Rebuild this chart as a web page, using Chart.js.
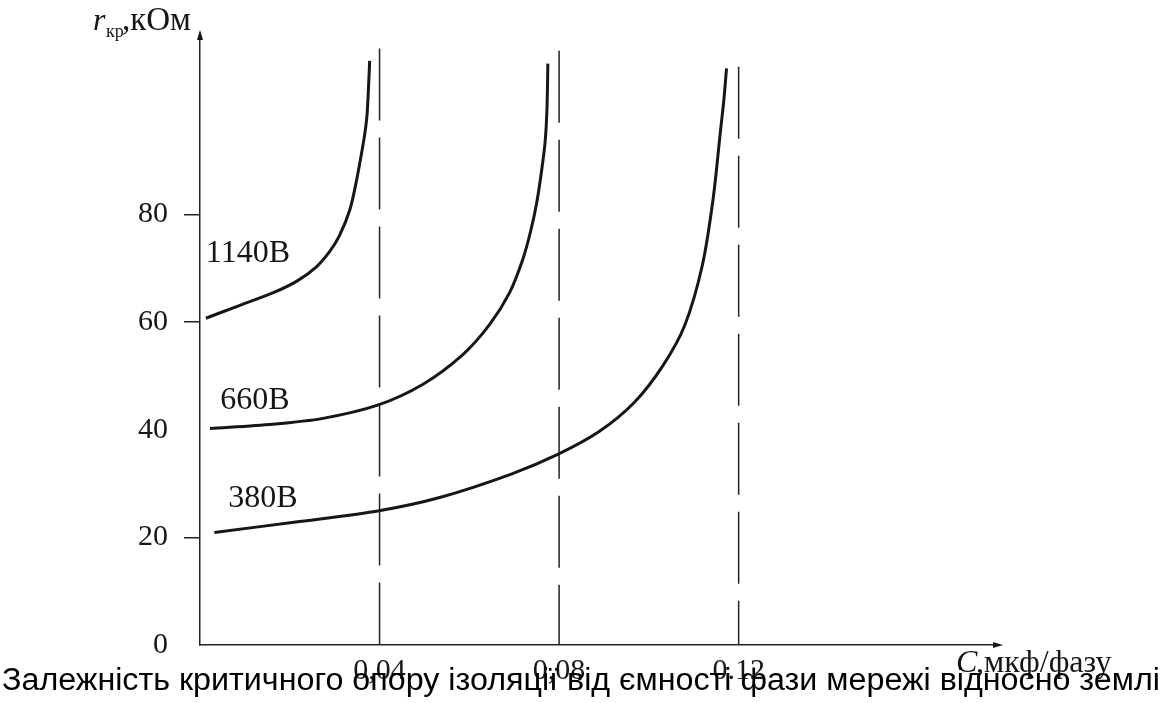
<!DOCTYPE html>
<html>
<head>
<meta charset="utf-8">
<script src="https://cdn.jsdelivr.net/npm/chart.js@4.4.0/dist/chart.umd.min.js"></script>
<style>
html, body { margin: 0; padding: 0; background: #fff; }
#wrap { width: 1163px; height: 703px; }
</style>
</head>
<body>
<div id="wrap"><canvas id="chart" width="1163" height="703"></canvas></div>
<script>
// C, мкф/фазу  ->  r кр, кОм
const c1140X = [0.0013, 0.0089, 0.0162, 0.0216, 0.0260, 0.0289, 0.0311, 0.0334, 0.0349, 0.0360, 0.0367, 0.0372, 0.0375, 0.0378]
const c1140Y = [60.7, 63.1, 65.4, 67.6, 70.3, 73.1, 76.1, 80.9, 86.4, 91.4, 94.9, 98.4, 102.8, 108.5]

const c660X = [0.0022, 0.0162, 0.0274, 0.0394, 0.0496, 0.0585, 0.0645, 0.0690, 0.0719, 0.0737, 0.0750, 0.0761, 0.0769, 0.0773, 0.0775]
const c660Y = [40.2, 41.0, 42.1, 44.5, 48.4, 53.9, 59.5, 65.5, 71.6, 77.0, 82.1, 88.1, 93.6, 99.7, 108.0]

const c380X = [0.0032, 0.0218, 0.0396, 0.0534, 0.0692, 0.0797, 0.0890, 0.0969, 0.1032, 0.1080, 0.1119, 0.1143, 0.1159, 0.1167, 0.1173]
const c380Y = [20.9, 22.9, 24.9, 27.4, 31.7, 35.4, 39.7, 45.2, 52.0, 59.4, 70.5, 82.8, 95.1, 101.2, 107.1]

const curveNames = ['1140В', '660В', '380В']

// dashed verticals (asymptotes)
const asymX = [0.04, 0.08, 0.12]
const asymTop = [110.8, 110.4, 107.4]

const yTicks = [0, 20, 40, 60, 80]
const xTicks = [0.04, 0.08, 0.12]
const xTickLabels = ['0,04', '0,08', '0.12']

const caption = 'Залежність критичного опору ізоляції від ємності фази мережі відносно землі'

const SERIF = '"Liberation Serif", "DejaVu Serif", serif'
const INK = '#161616'

function pts(xs, ys) { return xs.map((x, i) => ({ x: x, y: ys[i] })) }

const curves = [[c1140X, c1140Y], [c660X, c660Y], [c380X, c380Y]]

const datasets = []
curves.forEach((c, i) => {
    datasets.push({
        label: curveNames[i], data: pts(c[0], c[1]),
        borderColor: INK, borderWidth: 3, pointRadius: 0,
        tension: 0.3
    })
})
asymX.forEach((x, i) => {
    datasets.push({
        label: 'C' + i, data: [{ x: x, y: asymTop[i] }, { x: x, y: 0 }],
        borderColor: '#222', borderWidth: 1.5, pointRadius: 0,
        borderDash: [72, 17]
    })
})

// labels, axis names, arrows and the caption
const notes = {
    id: 'notes',
    afterDraw(chart) {
        const ctx = chart.ctx
        const xs = chart.scales.x, ys = chart.scales.y
        const a = chart.chartArea
        ctx.save()
        ctx.fillStyle = INK
        ctx.textBaseline = 'alphabetic'
        ctx.textAlign = 'left'

        // arrows
        ctx.beginPath()
        ctx.moveTo(a.left, a.top - 4)
        ctx.lineTo(a.left - 3, a.top + 6)
        ctx.lineTo(a.left + 3, a.top + 6)
        ctx.fill()
        ctx.beginPath()
        ctx.moveTo(a.right + 4, a.bottom)
        ctx.lineTo(a.right - 6, a.bottom - 3)
        ctx.lineTo(a.right - 6, a.bottom + 3)
        ctx.fill()

        // curve names
        const spots = [[0.0013, 71.2], [0.0045, 43.8], [0.0063, 25.6]]
        ctx.font = '32px ' + SERIF
        curveNames.forEach((n, i) => {
            ctx.fillText(n, xs.getPixelForValue(spots[i][0]), ys.getPixelForValue(spots[i][1]))
        })

        // y title
        ctx.font = 'italic 32px ' + SERIF
        ctx.fillText('r', 93, 30)
        ctx.font = '18px ' + SERIF
        ctx.fillText('кр', 106, 37)
        ctx.font = '33px ' + SERIF
        ctx.fillText(',кОм', 122, 30)

        // x title
        ctx.font = 'italic 32px ' + SERIF
        ctx.fillText('C', 956, 672)
        ctx.font = '32px ' + SERIF
        ctx.fillText(',мкф/фазу', 976, 672)

        // caption over everything
        ctx.font = '26px "Liberation Sans", Arial, sans-serif'
        const w = ctx.measureText(caption).width
        const size = 26 * 1158 / w
        ctx.font = size.toFixed(2) + 'px "Liberation Sans", Arial, sans-serif'
        ctx.fillStyle = '#000'
        ctx.fillText(caption, 2, 690)
        ctx.restore()
    }
}

new Chart(document.getElementById('chart').getContext('2d'), {
    type: 'line',
    data: { datasets: datasets },
    options: {
        responsive: false, animation: false,
        layout: { padding: { top: 30, right: 164, left: 0, bottom: 0 } },
        plugins: { legend: { display: false }, tooltip: { enabled: false } },
        scales: {
            x: {
                type: 'linear', min: 0, max: 0.178,
                afterBuildTicks: s => { s.ticks = xTicks.map(v => ({ value: v })) },
                afterFit: s => { s.height = 58 },
                grid: { display: false },
                border: { display: true, color: '#222', width: 1.5 },
                ticks: {
                    color: INK, padding: 0, maxRotation: 0, autoSkip: false,
                    font: { family: SERIF, size: 30 },
                    callback: v => xTickLabels[xTicks.indexOf(v)]
                }
            },
            y: {
                min: 0, max: 113.5,
                afterBuildTicks: s => { s.ticks = yTicks.map(v => ({ value: v })) },
                afterFit: s => { s.width = 200 },
                grid: {
                    display: true, drawOnChartArea: false, drawTicks: true, tickLength: 16,
                    lineWidth: 1.5,
                    tickColor: c => (c.tick && (c.tick.value === 0 || c.tick.value === 40)) ? 'rgba(0,0,0,0)' : '#222'
                },
                border: { display: true, color: '#222', width: 1.5 },
                ticks: {
                    color: INK, padding: 16, autoSkip: false,
                    font: { family: SERIF, size: 30 }
                }
            }
        }
    },
    plugins: [notes]
})
</script>
</body>
</html>
